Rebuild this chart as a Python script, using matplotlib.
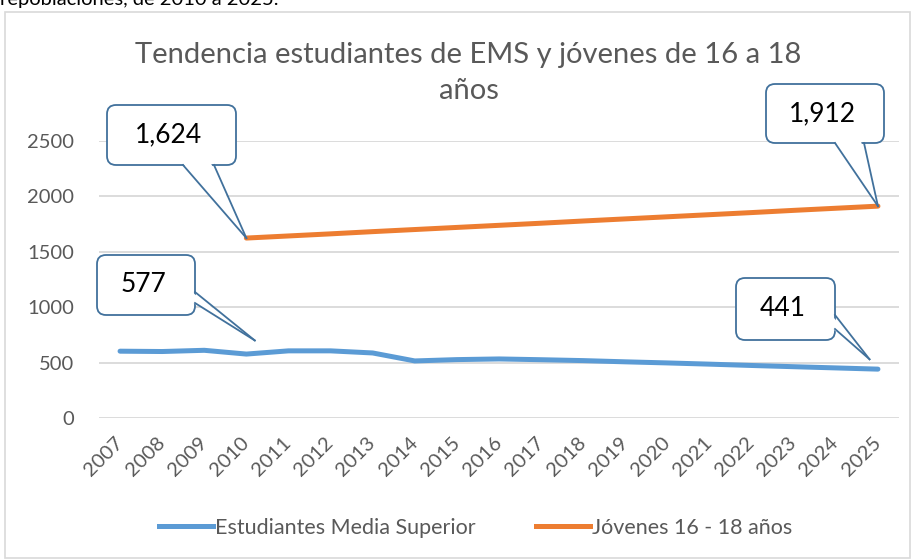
import matplotlib
matplotlib.use("Agg")
import matplotlib.pyplot as plt
from matplotlib.patches import FancyBboxPatch, Polygon, Rectangle
from matplotlib.lines import Line2D
from matplotlib.transforms import IdentityTransform

plt.rcParams["font.family"] = ["Lato", "DejaVu Sans"]

# data
years = [str(y) for y in range(2007, 2026)]
estudiantes = [603, 600, 611, 577, 606, 606, 587, 515, 527, 533,
               526, 518, 507, 497, 486, 474, 463, 452, 441]
jovenes_years = years[3:]
jovenes = [1624, 1643, 1662, 1682, 1701, 1720, 1739, 1758,
           1778, 1797, 1816, 1835, 1854, 1874, 1893, 1912]
yticks = [0, 500, 1000, 1500, 2000, 2500]

W, H = 913, 560
BLUE = "#5B9BD5"
ORANGE = "#ED7D31"
GRID = "#D9D9D9"
EDGE = "#41719C"
TXT = "#595959"

fig = plt.figure(figsize=(W / 100, H / 100), dpi=100)
fig.patch.set_facecolor("white")

# text cut off above the chart (only its lower part shows in the reference)
fig.text(0.0, 1 - 5 / H, "repoblaciones, de 2010 a 2025.", fontsize=14.5,
         color="black", va="baseline", ha="left")

# chart area border
fig.patches.append(Rectangle((5 / W, 2 / H), 905 / W, 546 / H,
                             transform=fig.transFigure, fill=False,
                             edgecolor=GRID, linewidth=1.2))

ax = fig.add_axes([99 / W, 1 - 418 / H, 800 / W, 277 / H])
x_all = list(range(len(years)))
ax.plot(x_all, estudiantes, color=BLUE, linewidth=3.6,
        solid_capstyle="round", label="Estudiantes Media Superior", zorder=3)
xj = [years.index(y) for y in jovenes_years]
ax.plot(xj, jovenes, color=ORANGE, linewidth=3.6,
        solid_capstyle="round", label="Jóvenes 16 - 18 años", zorder=3)

ax.set_xlim(-0.5, len(years) - 0.5)
ax.set_ylim(0, 2500)
ax.set_yticks(yticks)
ax.set_yticklabels([str(v) for v in yticks], fontsize=14.5, color=TXT)
ax.set_xticks(x_all)
ax.set_xticklabels(years, fontsize=14.5, color=TXT, rotation=45,
                   ha="right", va="center", rotation_mode="anchor")
ax.tick_params(axis="y", length=0, pad=18)
ax.tick_params(axis="x", length=0, pad=16)
ax.grid(axis="y", color=GRID, linewidth=1.3)
ax.set_axisbelow(True)
for s in ax.spines.values():
    s.set_visible(False)
ax.patch.set_alpha(0)

ax.set_title("Tendencia estudiantes de EMS y jóvenes de 16 a 18\naños",
             fontsize=21, color=TXT, pad=0, y=1.0, linespacing=1.5)
ax.title.set_position((0.462, 1 + 42 / 277))

leg = fig.legend(handles=[Line2D([], [], color=BLUE, linewidth=3.6),
                          Line2D([], [], color=ORANGE, linewidth=3.6)],
                 labels=["Estudiantes Media Superior", "Jóvenes 16 - 18 años"],
                 loc="center", bbox_to_anchor=(0.521, 1 - 528 / H), ncol=2,
                 frameon=False, fontsize=15.5, handlelength=2.5,
                 handletextpad=0.1, columnspacing=2.8)
for t in leg.get_texts():
    t.set_color(TXT)

fig.canvas.draw()


def px(x, y):
    return (x, H - y)


def callout(text, box, base, tip):
    x0, y0, x1, y1 = box
    tx, ty = ax.transData.transform(tip)
    (ax_, ay_), (bx_, by_) = base
    a = px(ax_, ay_)
    b = px(bx_, by_)
    cx, cy = (x0 + x1) / 2, (y0 + y1) / 2
    # push the base a little inside the box so it hides the box edge
    a_in = (a[0] + (cx - ax_) * 0.08, a[1] - (cy - ay_) * 0.08)
    b_in = (b[0] + (cx - bx_) * 0.08, b[1] - (cy - by_) * 0.08)
    bx = FancyBboxPatch(px(x0, y1), x1 - x0, y1 - y0,
                        boxstyle="round,pad=0,rounding_size=9",
                        transform=IdentityTransform(), facecolor="white",
                        edgecolor=EDGE, linewidth=1.3, zorder=5)
    fig.patches.append(bx)
    tri = Polygon([a_in, b_in, (tx, ty)], closed=True,
                  transform=IdentityTransform(), facecolor="white",
                  edgecolor="none", zorder=6)
    fig.patches.append(tri)
    for p in (a, b):
        fig.lines.append(Line2D([p[0], tx], [p[1], ty], color=EDGE,
                                linewidth=1.3, transform=IdentityTransform(),
                                zorder=7))
    fig.text((cx - 3) / W, 1 - cy / H, text, fontsize=19, color="black",
             ha="center", va="center", zorder=8)


callout("1,624", (107, 105, 236, 165), ((183, 165), (214, 165)),
        (years.index("2010"), jovenes[0]))
callout("1,912", (766, 84, 884, 143), ((835, 143), (864, 143)),
        (years.index("2025"), jovenes[-1]))
callout("577", (97, 255, 195, 315), ((195, 292), (195, 303)),
        (years.index("2010") + 0.2, 700))
callout("441", (736, 278, 835, 340), ((835, 315), (835, 329)),
        (years.index("2025") - 0.2, 530))

fig.savefig("out.png", dpi=100)
